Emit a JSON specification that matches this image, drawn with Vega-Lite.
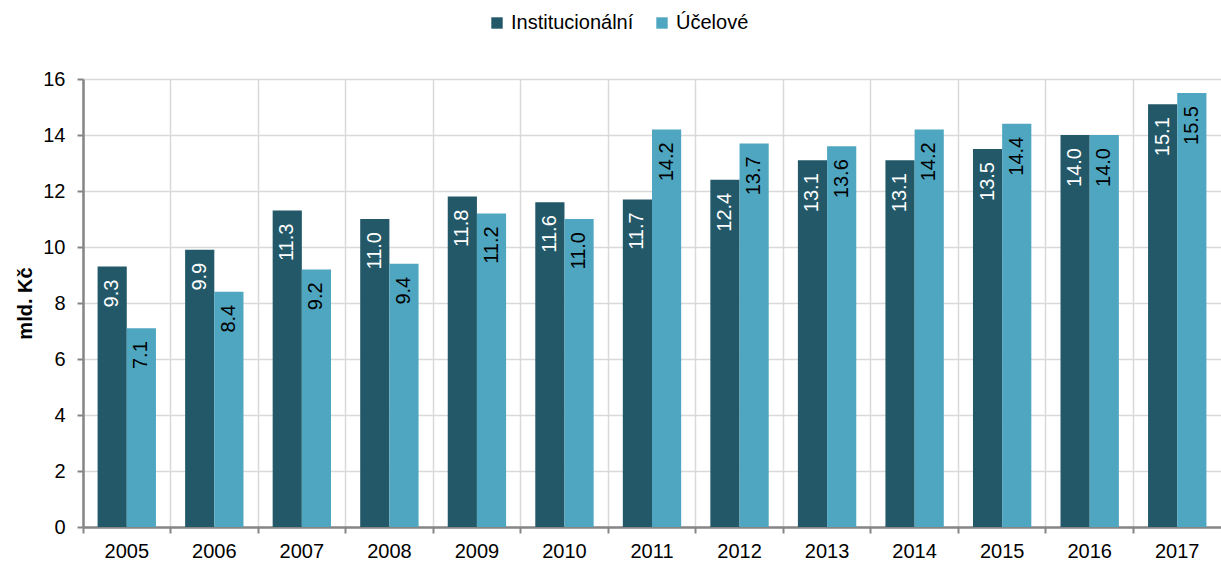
{
  "$schema": "https://vega.github.io/schema/vega-lite/v6.json",
  "width": 1138,
  "height": 448,
  "autosize": {"type": "none"},
  "padding": {"left": 83, "top": 79, "right": 0, "bottom": 34},
  "background": "white",
  "view": {"stroke": null},
  "config": {
    "font": "Liberation Sans",
    "axis": {"labelFont": "Liberation Sans", "titleFont": "Liberation Sans"},
    "legend": {"labelFont": "Liberation Sans"}
  },
  "data": {
    "values": [
      {"year": "2005", "series": "Institucionální", "value": 9.3},
      {"year": "2005", "series": "Účelové", "value": 7.1},
      {"year": "2006", "series": "Institucionální", "value": 9.9},
      {"year": "2006", "series": "Účelové", "value": 8.4},
      {"year": "2007", "series": "Institucionální", "value": 11.3},
      {"year": "2007", "series": "Účelové", "value": 9.2},
      {"year": "2008", "series": "Institucionální", "value": 11.0},
      {"year": "2008", "series": "Účelové", "value": 9.4},
      {"year": "2009", "series": "Institucionální", "value": 11.8},
      {"year": "2009", "series": "Účelové", "value": 11.2},
      {"year": "2010", "series": "Institucionální", "value": 11.6},
      {"year": "2010", "series": "Účelové", "value": 11.0},
      {"year": "2011", "series": "Institucionální", "value": 11.7},
      {"year": "2011", "series": "Účelové", "value": 14.2},
      {"year": "2012", "series": "Institucionální", "value": 12.4},
      {"year": "2012", "series": "Účelové", "value": 13.7},
      {"year": "2013", "series": "Institucionální", "value": 13.1},
      {"year": "2013", "series": "Účelové", "value": 13.6},
      {"year": "2014", "series": "Institucionální", "value": 13.1},
      {"year": "2014", "series": "Účelové", "value": 14.2},
      {"year": "2015", "series": "Institucionální", "value": 13.5},
      {"year": "2015", "series": "Účelové", "value": 14.4},
      {"year": "2016", "series": "Institucionální", "value": 14.0},
      {"year": "2016", "series": "Účelové", "value": 14.0},
      {"year": "2017", "series": "Institucionální", "value": 15.1},
      {"year": "2017", "series": "Účelové", "value": 15.5}
    ]
  },
  "encoding": {
    "x": {
      "field": "year", "type": "nominal", "title": null,
      "scale": {"paddingInner": 0, "paddingOuter": 0},
      "axis": {
        "bandPosition": 0, "labelAngle": 0, "labelFontSize": 20, "labelColor": "#000",
        "labelPadding": 8, "tickSize": 6, "tickColor": "#868686", "tickWidth": 2,
        "domainColor": "#868686", "domainWidth": 2.5,
        "grid": true, "gridColor": "#d9d9d9", "gridWidth": 1.5
      }
    },
    "xOffset": {"field": "series", "type": "nominal", "sort": ["Institucionální", "Účelové"], "scale": {"paddingInner": 0, "paddingOuter": 0.5}},
    "y": {
      "field": "value", "type": "quantitative", "title": "mld. Kč",
      "scale": {"domain": [0, 16]},
      "axis": {
        "values": [0, 2, 4, 6, 8, 10, 12, 14, 16], "labelFontSize": 20, "labelColor": "#000",
        "labelPadding": 12, "tickSize": 6, "tickColor": "#868686", "tickWidth": 2,
        "domainColor": "#868686", "domainWidth": 2.5,
        "grid": true, "gridColor": "#d9d9d9", "gridWidth": 1.5,
        "titleFontSize": 20, "titleFontWeight": "bold", "titleColor": "#000", "titlePadding": 7
      }
    }
  },
  "layer": [
    {
      "mark": {"type": "bar"},
      "encoding": {
        "color": {
          "field": "series", "type": "nominal", "sort": ["Institucionální", "Účelové"],
          "scale": {"domain": ["Institucionální", "Účelové"], "range": ["#225868", "#4fa6c0"]},
          "legend": {
            "title": null, "orient": "none", "legendX": 404, "legendY": -66, "direction": "horizontal",
            "symbolType": "square", "symbolSize": 130, "symbolStrokeWidth": 0,
            "labelFontSize": 20, "labelColor": "#000", "columnPadding": 18, "labelOffset": 4
          }
        }
      }
    },
    {
      "mark": {"type": "text", "angle": -90, "align": "right", "baseline": "middle", "dx": -13, "fontSize": 20},
      "encoding": {
        "text": {"field": "value", "type": "quantitative", "format": ".1f"},
        "color": {"condition": {"test": "datum.series === 'Institucionální'", "value": "white"}, "value": "black"}
      }
    }
  ]
}
